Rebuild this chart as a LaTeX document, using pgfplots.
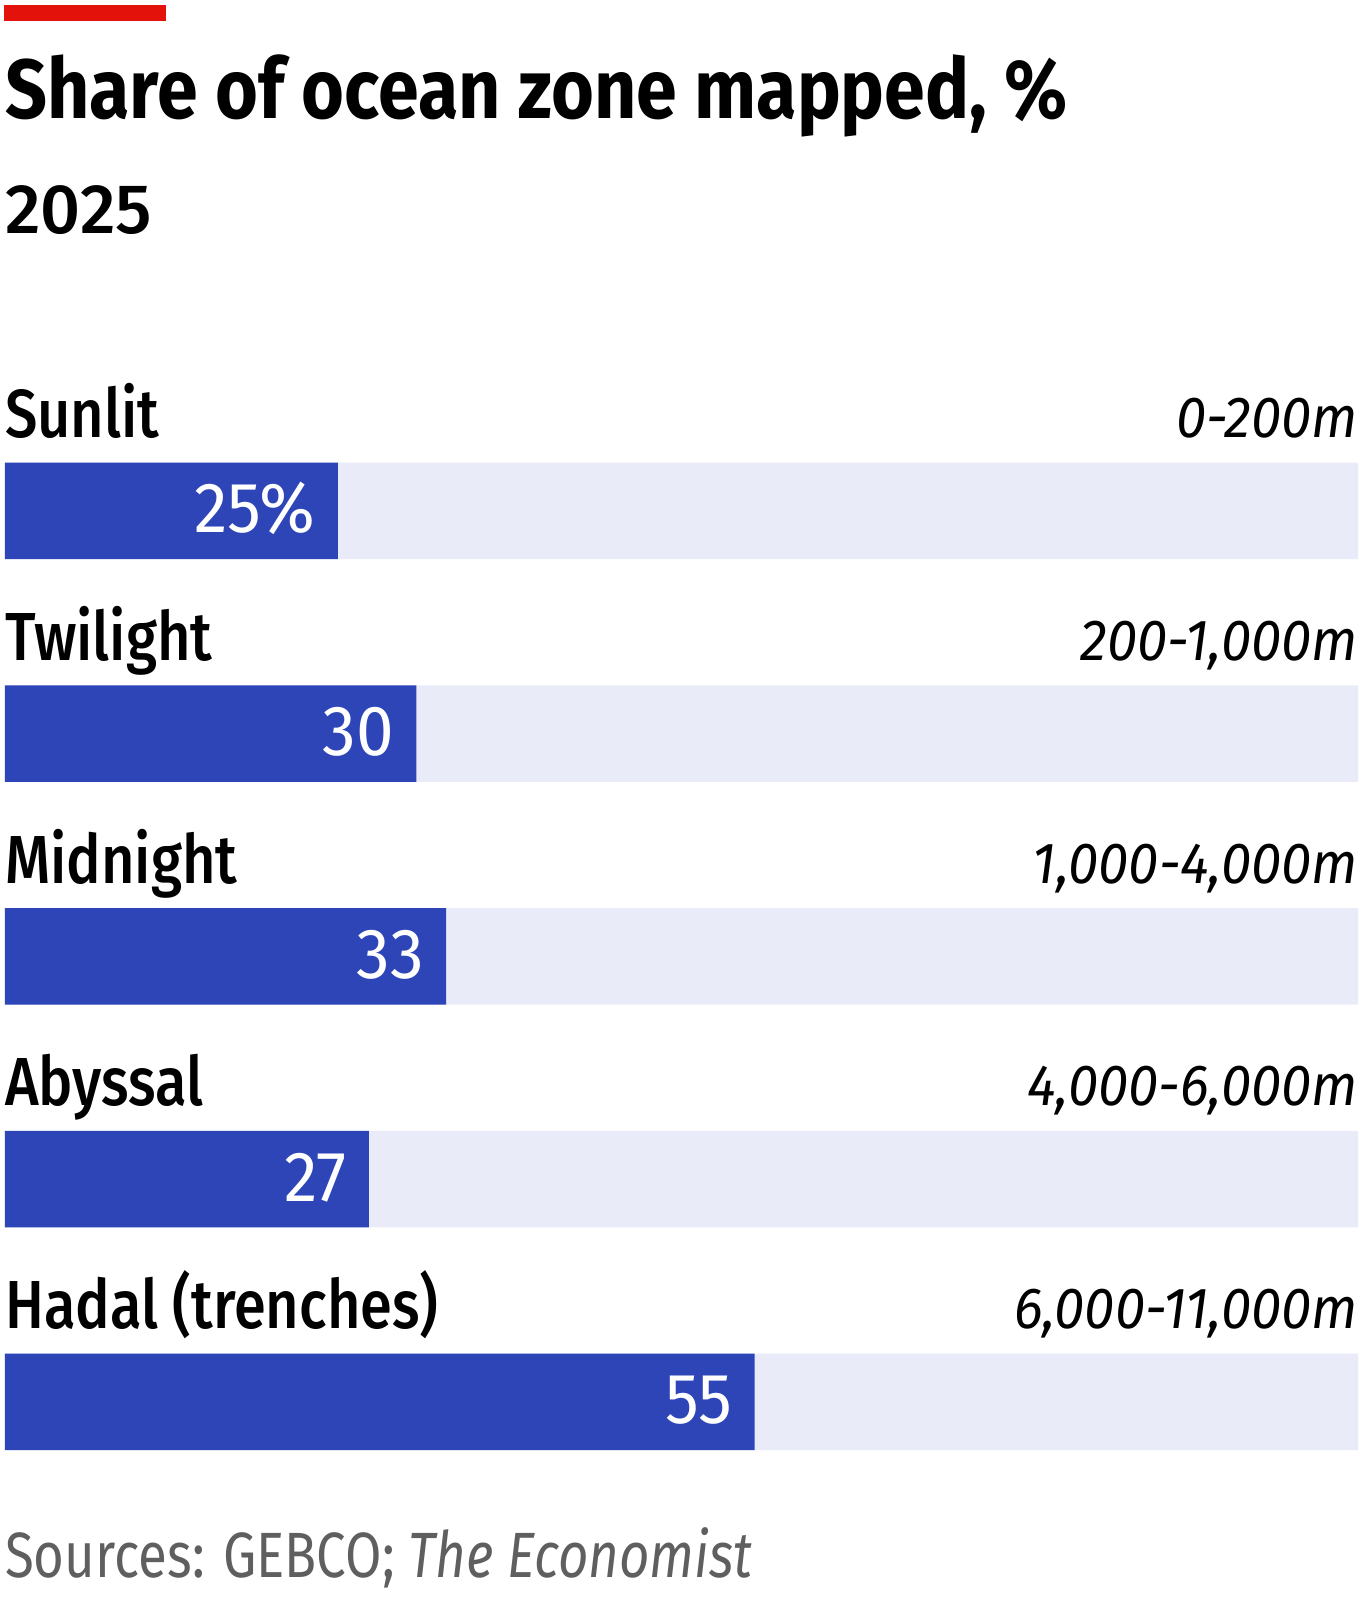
\documentclass[border=0pt]{standalone}
\usepackage{fontspec}
\setmainfont{Fira Sans}[FakeStretch=0.85]
\newfontfamily\titlefont{Fira Sans}[FakeStretch=0.875]
\newfontfamily\medfont{Fira Sans Medium}[FakeStretch=0.85]
\newfontfamily\yearfont{Fira Sans Medium}[FakeStretch=1.0]
\newfontfamily\valfont{Fira Sans}[FakeStretch=0.95]
\newfontfamily\depthfont{Fira Sans}[FakeStretch=0.94]
\newfontfamily\srcfont{Fira Sans}[FakeStretch=0.825]
\usepackage{pgfplots}
\pgfplotsset{compat=1.18}
\definecolor{ecored}{HTML}{E3120B}
\definecolor{ecoblue}{HTML}{2E45B8}
\definecolor{ecobg}{HTML}{E9EBF8}
\definecolor{ecogray}{HTML}{5F5F5F}
\newcommand{\fs}[1]{\fontsize{#1}{#1}\selectfont}

\begin{document}
\begin{tikzpicture}[x=1pt,y=1pt,
  cat/.style={anchor=base west, inner sep=0, font=\medfont\fs{68}, yshift=73.25pt},
  depth/.style={anchor=base east, inner sep=0, font=\depthfont\fs{58}\itshape, yshift=73.25pt},
  val/.style={anchor=base east, inner sep=0, font=\valfont\fs{71}, text=white, xshift=-22pt, yshift=-22pt},
]
\path[use as bounding box] (0,0) rectangle (1362,-1606);
\fill[ecored] (4,-5) rectangle (166,-21);
\node[anchor=base west, inner sep=0, font=\titlefont\fs{84}\bfseries] at (5,-118) {Share of ocean zone mapped, \%};
\node[anchor=base west, inner sep=0, font=\yearfont\fs{70}] at (5,-233) {2025};

\begin{axis}[
  at={(5pt,-399.6pt)}, anchor=north west,
  scale only axis, width=1353pt, height=1113.75pt,
  xmin=0, xmax=100, ymin=-0.5, ymax=4.5, y dir=reverse,
  hide axis, xbar, bar width=96.5pt,
  clip=false,
]
% full-width background bars
\addplot[fill=ecobg, draw=none, bar shift=0pt] coordinates {(100,0) (100,1) (100,2) (100,3) (100,4)};
% share mapped
\addplot[fill=ecoblue, draw=none, bar shift=0pt] coordinates {(24.6,0) (30.4,1) (32.6,2) (26.9,3) (55.4,4)};

\node[cat] at (axis cs:0,0) {Sunlit};
\node[cat] at (axis cs:0,1) {Twilight};
\node[cat] at (axis cs:0,2) {Midnight};
\node[cat] at (axis cs:0,3) {Abyssal};
\node[cat] at (axis cs:0,4) {Hadal (trenches)};

\node[depth] at (axis cs:100,0) {0-200m};
\node[depth] at (axis cs:100,1) {200-1,000m};
\node[depth] at (axis cs:100,2) {1,000-4,000m};
\node[depth] at (axis cs:100,3) {4,000-6,000m};
\node[depth] at (axis cs:100,4) {6,000-11,000m};

\node[val] at (axis cs:24.6,0) {25\%};
\node[val] at (axis cs:30.4,1) {30};
\node[val] at (axis cs:32.6,2) {33};
\node[val] at (axis cs:26.9,3) {27};
\node[val] at (axis cs:55.4,4) {55};
\end{axis}

\node[anchor=base west, inner sep=0, font=\srcfont\fs{64}, text=ecogray] at (5,-1577) {Sources: GEBCO; \textit{The Economist}};
\end{tikzpicture}
\end{document}
